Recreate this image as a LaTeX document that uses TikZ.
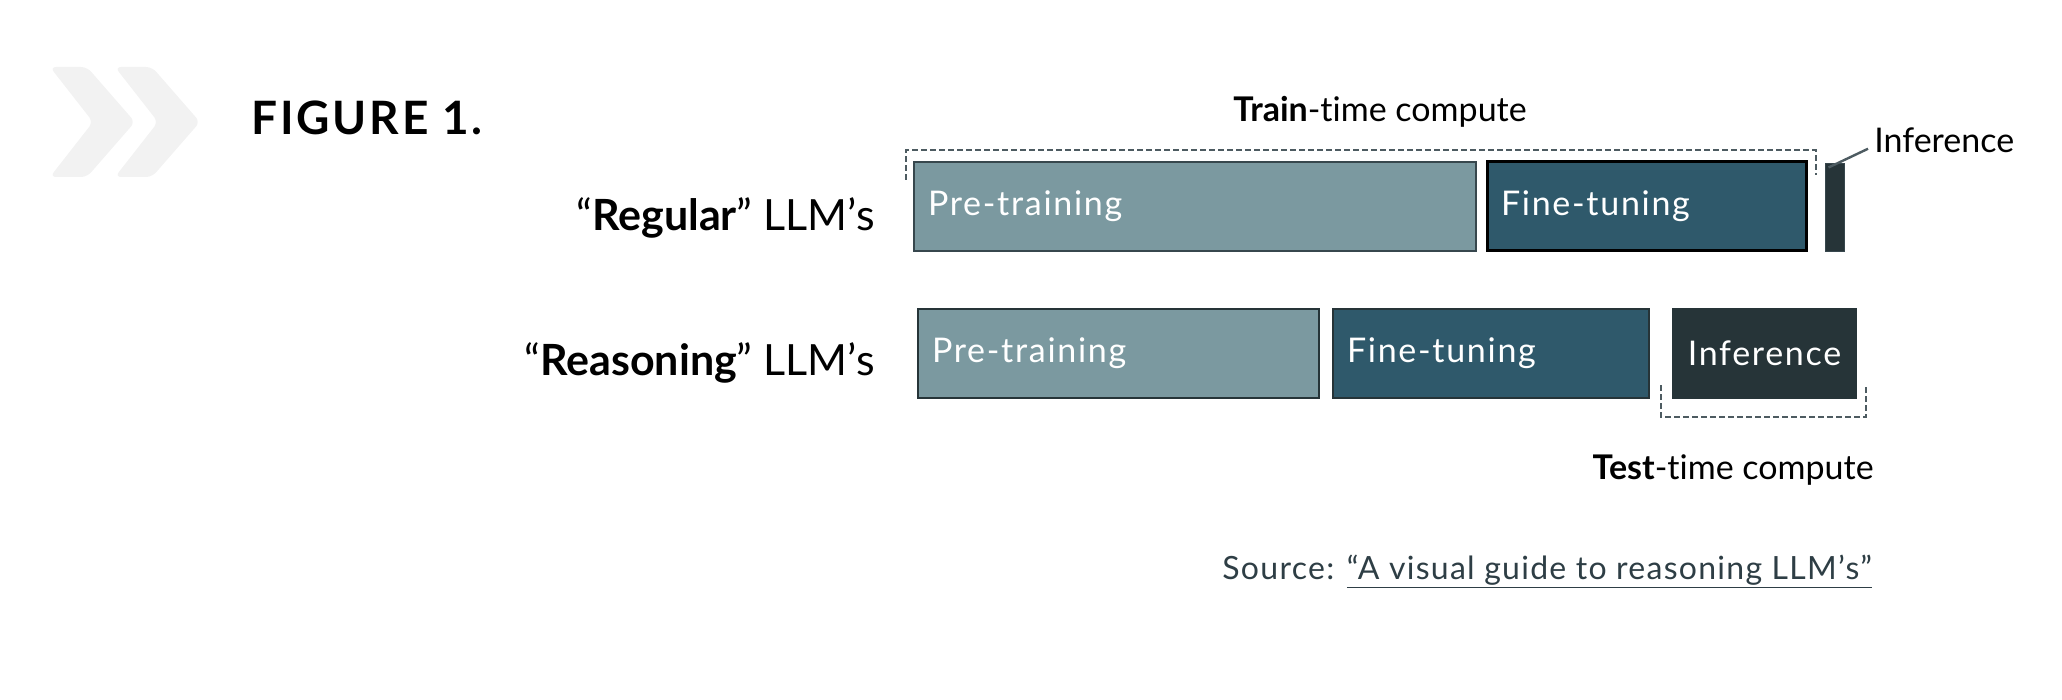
\documentclass[tikz,border=0pt]{standalone}
\usepackage{fontspec}
\setmainfont{Lato}[RawFeature=-liga]
\definecolor{chev}{HTML}{F2F2F2}
\definecolor{pretrain}{HTML}{7B99A0}
\definecolor{finetune}{HTML}{2F596B}
\definecolor{infer}{HTML}{263438}
\definecolor{barline}{HTML}{37474D}
\definecolor{dashcol}{HTML}{4D5B61}
\definecolor{srccol}{HTML}{2E3E45}
\begin{document}
\begin{tikzpicture}[x=0.5pt, y=-0.5pt,
    bar/.style={draw=barline, line width=1pt, text=white, minimum height=44.5pt,
        inner xsep=7pt, inner ysep=0pt, align=left,
        font=\fontsize{17}{20}\selectfont\addfontfeatures{LetterSpace=5}},
    bracket/.style={draw=dashcol, line width=1pt, dash pattern=on 3pt off 1.5pt},
    label/.style={inner sep=0pt, font=\fontsize{17}{20}\selectfont},
    rowlabel/.style={inner sep=0pt, anchor=base east, font=\fontsize{21.5}{26}\selectfont}]
    \useasboundingbox (0,0) rectangle (2062,700);
    % chevrons
    \foreach \dx in {0,65}
        \fill[chev, rounded corners=3pt] (50+\dx,67) -- (87+\dx,67) -- (135+\dx,122)
            -- (87+\dx,177) -- (50+\dx,177) -- (93+\dx,122) -- cycle;
    \node[inner sep=0pt, anchor=base west, font=\fontsize{23}{28}\selectfont\bfseries\addfontfeatures{LetterSpace=6}]
        (title) at (251,135) {FIGURE 1.};
    % regular row
    \node[label, anchor=base] (trainlbl) at (1380,122) {\textbf{Train}-time compute};
    \node[bar, fill=pretrain, text width=267pt] (preA) at (1195,206.5) {Pre-training};
    \node[bar, fill=finetune, draw=black, line width=1.5pt, text width=145.5pt] (fineA) at (1646.5,206.5) {Fine-tuning};
    \node[fill=infer, draw=barline, line width=0.5pt, minimum width=9.5pt, minimum height=44pt, inner sep=0pt] (infA) at (1834.5,208) {};
    \node[label, anchor=base west] (inflbl) at (1874,153) {Inference};
    \draw[dashcol, line width=1.2pt] ([xshift=-3pt,yshift=-2pt]infA.north) -- ([xshift=-3pt,yshift=-4pt]inflbl.west);
    \draw[bracket] (906,180) |- (1816,150) -- (1816,175);
    \node[rowlabel] (regular) at (875,231) {“\textbf{Regular}” LLM’s};
    % reasoning row
    \node[bar, fill=pretrain, draw=infer, text width=186.5pt] (preB) at (1118.5,353.5) {Pre-training};
    \node[bar, fill=finetune, draw=infer, text width=144pt] (fineB) at (1491,353.5) {Fine-tuning};
    \node[bar, fill=infer, draw=infer, align=center, text width=77.5pt] (infB) at (1764.5,353.5) {Inference};
    \draw[bracket] (1661,385) |- (1866,417) -- (1866,385);
    \node[label, anchor=base east] (testlbl) at (1874,479) {\textbf{Test}-time compute};
    \node[rowlabel] (reasoning) at (875,375) {“\textbf{Reasoning}” LLM’s};
    % source
    \node[inner sep=0pt, anchor=base west, text=srccol, font=\fontsize{16}{19}\selectfont\addfontfeatures{LetterSpace=4}]
        (source) at (1222,579) {Source: \underline{“A visual guide to reasoning LLM’s”}};
\end{tikzpicture}
\end{document}
